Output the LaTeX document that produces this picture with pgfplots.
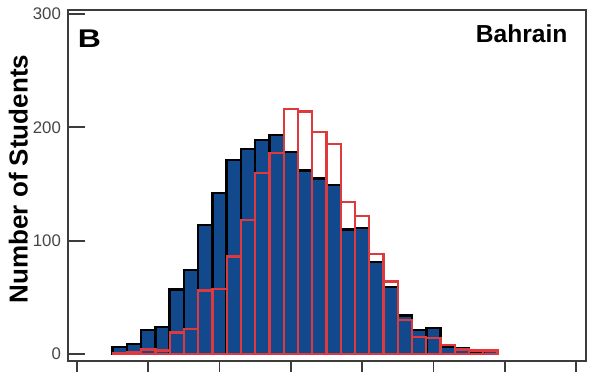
\documentclass[border=0pt]{standalone}
\usepackage{pgfplots}
\pgfplotsset{compat=1.18}
\usepackage{fontspec}
\setmainfont{Liberation Sans}
\definecolor{navy}{RGB}{18,72,140}
\definecolor{barred}{RGB}{222,58,62}
\definecolor{framegray}{RGB}{60,60,60}
\definecolor{tickgray}{RGB}{70,70,70}
\begin{document}
\begin{tikzpicture}
\begin{axis}[
  name=ax,
  scale only axis,
  width=259pt, height=175.5pt,
  xmin=-0.63, xmax=35.7,
  ymin=-6.2, ymax=303.5,
  ybar, bar width=1, bar shift=0pt,
  xtick={0,5,10,15,20,25,30,35},
  xticklabels={},
  ytick={0,100,200,300},
  tick pos=left,
  xtick align=outside,
  ytick align=inside,
  major tick length=8.5pt,
  x tick style={/pgfplots/major tick length=5.5pt},
  tick style={line width=0.9pt, color=framegray},
  axis line style={line width=0.9pt, color=framegray},
  ticklabel style={font=\fontsize{8.4}{10}\selectfont, text=tickgray},
  /pgf/number format/assume math mode=true,
  ylabel={Number of Students},
  ylabel style={at={(axis description cs:-0.096,0.5185)}, anchor=center, font=\bfseries\fontsize{13}{15}\selectfont},
  clip=false,
]
\addplot[fill=navy, draw=black, line width=1.2pt] coordinates {
(3,6) (4,9) (5,21) (6,24) (7,57) (8,74) (9,114) (10,142) (11,171) (12,181)
(13,189) (14,193) (15,178) (16,162) (17,155) (18,149) (19,110) (20,111) (21,81)
(22,59) (23,34) (24,21) (25,23) (26,6) (27,5) (28,2) (29,3)
};
\addplot[fill=none, draw=barred, line width=1.1pt] coordinates {
(3,1) (4,2) (5,4) (6,3) (7,19) (8,22) (9,56) (10,57) (11,86) (12,118)
(13,160) (14,177) (15,216) (16,214) (17,196) (18,185) (19,134) (20,122) (21,88)
(22,64) (23,30) (24,15) (25,14) (26,8) (27,4) (28,3) (29,3)
};
\node[anchor=base, xscale=1.25, font=\bfseries\fontsize{12.8}{14}\selectfont] at (axis description cs:0.0415,0.894) {B};
\node[anchor=base east, inner sep=0pt, font=\bfseries\fontsize{12.3}{14}\selectfont] at (axis description cs:0.965,0.906) {Bahrain};
\end{axis}
\path ([shift={(-34pt,-6.5pt)}]ax.south west) rectangle ([shift={(7pt,5pt)}]ax.north east);
\end{tikzpicture}
\end{document}
